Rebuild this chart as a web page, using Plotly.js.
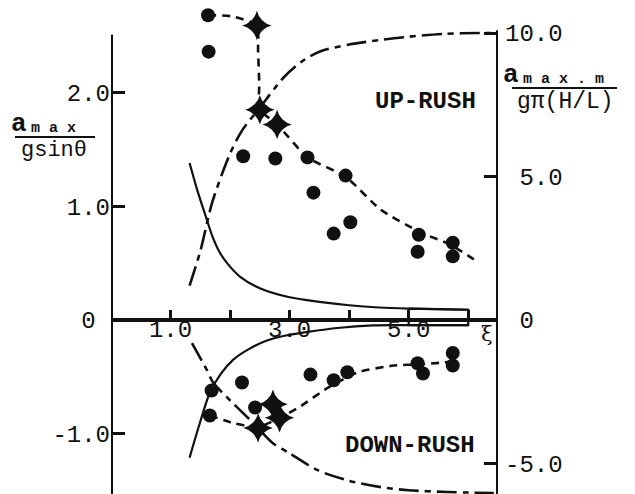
<!DOCTYPE html>
<html><head><meta charset="utf-8">
<script src="https://cdn.plot.ly/plotly-3.0.1.min.js"></script>
<style>html,body{margin:0;padding:0;background:#fff;} #chart{width:635px;height:494px;}</style>
</head><body><div id="chart"></div>
<script>
// ---- measured data (left axis: a_max / g sin(theta); right axis: a_max.m / g pi (H/L)) ----
const upCircX = [1.63,1.64,2.22,2.76,3.30,3.94,3.40,4.02,3.74,5.17,5.15,5.74,5.74];
const upCircY = [2.68,2.36,1.44,1.42,1.43,1.27,1.12,0.86,0.76,0.75,0.60,0.68,0.56];
const upStarX = [2.45,2.50,2.79];
const upStarY = [2.59,1.85,1.72];
const upFitX  = [1.63,2.03,2.45,2.47,2.49,2.50,2.79,3.30,3.94,4.53,5.20,5.71,6.16];
const upFitY  = [2.68,2.67,2.59,2.37,2.08,1.85,1.72,1.43,1.26,0.97,0.77,0.66,0.51];

const dnCircX = [1.69,1.66,2.20,2.42,3.35,3.74,3.97,5.15,5.24,5.74,5.74];
const dnCircY = [-0.62,-0.84,-0.55,-0.77,-0.48,-0.53,-0.46,-0.38,-0.47,-0.29,-0.40];
const dnStarX = [2.47,2.72,2.83];
const dnStarY = [-0.95,-0.74,-0.86];
const dnFitX  = [1.66,2.08,2.47,2.84,3.18,3.63,4.14,4.75,5.20,5.66];
const dnFitY  = [-0.84,-0.91,-0.94,-0.86,-0.76,-0.60,-0.46,-0.40,-0.39,-0.37];

// theoretical curves (left scale)
const upTheoX = [1.32,1.45,1.58,1.70,1.82,1.95,2.17,2.5,3.0,3.5,4.0,4.5,5.0,5.5,6.0];
const upTheoY = [1.38,1.14,0.93,0.74,0.60,0.50,0.38,0.28,0.20,0.16,0.13,0.11,0.10,0.095,0.09];
const dnTheoX = [1.32,1.49,1.66,1.85,2.05,2.30,2.62,3.0,3.3,3.8,4.4,5.0,6.0];
const dnTheoY = [-1.21,-0.91,-0.64,-0.47,-0.35,-0.26,-0.18,-0.13,-0.105,-0.07,-0.047,-0.045,-0.045];
// end box of the theoretical curves
const boxX = [5.0,6.0,6.0,5.0,5.0];
const boxY = [0.10,0.09,-0.045,-0.045,0.10];

// theoretical curves (right scale)
const upMaxX = [1.32,1.5,1.7,2.0,2.2,2.5,2.9,3.2,3.5,4.0,4.5,5.0,5.6,6.2,6.5];
const upMaxY = [1.2,2.4,4.1,5.8,6.6,7.4,8.45,9.0,9.35,9.6,9.75,9.87,9.97,10.0,10.0];
const dnMaxX = [1.36,1.61,1.71,2.0,2.39,2.72,3.0,3.47,4.0,4.53,5.0,5.66,6.0,6.43];
const dnMaxY = [-0.8,-1.74,-2.16,-2.8,-3.59,-4.29,-4.64,-5.23,-5.6,-5.82,-5.93,-5.99,-6.01,-6.03];

// ticks
const xTickVals = [1,2,3,4,5,6];
const xTickText = ['1.0','','3.0','','5.0',''];
const yTickVals = [-1,0,1,2];
const yTickText = ['-1.0','0\u00A0','1.0','2.0'];
const y2TickVals = [-5,0,5,10];
const y2TickText = ['-5.0','\u00A00','\u00A05.0','10.0'];

// ---- layout helpers ----
const W = 635, H = 494, ML = 111, MR = 137;
const PW = W - ML - MR;
const px = v => (v - ML) / PW;
const py = v => 1 - v / H;
const yRange = [-1.530, 2.814];
const y2Range = [-6.06, 11.15];
const xRange = [0, 6.5];
const zeroPos = -yRange[0] / (yRange[1] - yRange[0]);
const ink = '#111';
const mono = 'Liberation Mono, DejaVu Sans Mono, monospace';
const tickFont = {family: mono, size: 24, color: ink};

const dashTheo = '20px,6px,6px,6px';
const dashFit = '8px,6px';

const traces = [
  {x: upMaxX, y: upMaxY, yaxis: 'y2', mode: 'lines', line: {color: ink, width: 2.6, dash: dashTheo, shape: 'spline', smoothing: 0.8}},
  {x: dnMaxX, y: dnMaxY, yaxis: 'y2', mode: 'lines', line: {color: ink, width: 2.6, dash: dashTheo, shape: 'spline', smoothing: 0.8}},
  {x: upTheoX, y: upTheoY, mode: 'lines', line: {color: ink, width: 2.2, shape: 'spline', smoothing: 0.8}},
  {x: dnTheoX, y: dnTheoY, mode: 'lines', line: {color: ink, width: 2.2, shape: 'spline', smoothing: 0.8}},
  {x: boxX, y: boxY, mode: 'lines', line: {color: ink, width: 2.2}},
  {x: upFitX, y: upFitY, mode: 'lines', line: {color: ink, width: 2.6, dash: dashFit, shape: 'spline', smoothing: 0.6}},
  {x: dnFitX, y: dnFitY, mode: 'lines', line: {color: ink, width: 2.6, dash: dashFit, shape: 'spline', smoothing: 0.6}},
  {x: upCircX, y: upCircY, mode: 'markers', marker: {symbol: 'circle', size: 14, color: ink}, cliponaxis: false},
  {x: dnCircX, y: dnCircY, mode: 'markers', marker: {symbol: 'circle', size: 14, color: ink}, cliponaxis: false},
  {x: upStarX, y: upStarY, mode: 'markers', marker: {symbol: 'star-diamond', size: 21, color: ink}, cliponaxis: false},
  {x: dnStarX, y: dnStarY, mode: 'markers', marker: {symbol: 'star-diamond', size: 21, color: ink}, cliponaxis: false},
  // empty trace so the label-only x axis is registered
  {x: [], y: [], xaxis: 'x2', mode: 'markers', hoverinfo: 'skip'}
];

const ann = (text, x, y, font) => ({text, x: px(x), y: py(y), xref: 'paper', yref: 'paper',
  xanchor: 'center', yanchor: 'middle', showarrow: false, font});

const layout = {
  width: W, height: H,
  margin: {l: ML, r: MR, t: 0, b: 0, pad: 0, autoexpand: false},
  paper_bgcolor: '#fff', plot_bgcolor: '#fff',
  showlegend: false,
  xaxis: {
    range: xRange, anchor: 'free', position: zeroPos,
    showline: true, linewidth: 4, linecolor: ink,
    showgrid: false, zeroline: false,
    ticks: 'inside', ticklen: 8, tickwidth: 3, tickcolor: ink,
    tickmode: 'array', tickvals: xTickVals, ticktext: xTickText,
    showticklabels: false
  },
  xaxis2: {
    range: xRange, overlaying: 'x', anchor: 'free', position: zeroPos + 8 / H,
    showline: false, showgrid: false, zeroline: false, ticks: '',
    tickmode: 'array', tickvals: xTickVals, ticktext: xTickText,
    tickfont: tickFont
  },
  yaxis: {
    range: yRange, showline: false, showgrid: false, zeroline: false,
    ticks: 'inside', ticklen: 14, tickwidth: 3, tickcolor: ink,
    tickmode: 'array', tickvals: yTickVals, ticktext: yTickText,
    tickfont: tickFont
  },
  yaxis2: {
    range: y2Range, overlaying: 'y', side: 'right',
    showline: false, showgrid: false, zeroline: false,
    ticks: 'inside', ticklen: 14, tickwidth: 3, tickcolor: ink,
    tickmode: 'array', tickvals: y2TickVals, ticktext: y2TickText,
    tickfont: tickFont, ticklabelstandoff: 6
  },
  shapes: [
    {type: 'line', xref: 'x', yref: 'y', x0: 0, x1: 0, y0: yRange[0] - 0.1, y1: 2.51, line: {color: ink, width: 4}},
    {type: 'line', xref: 'x', yref: 'y2', x0: 6.5, x1: 6.5, y0: y2Range[0] - 0.5, y1: 10.1, line: {color: ink, width: 4}},
    {type: 'line', xref: 'paper', yref: 'paper', x0: px(15), x1: px(95), y0: py(137), y1: py(137), line: {color: ink, width: 2}},
    {type: 'line', xref: 'paper', yref: 'paper', x0: px(512), x1: px(617), y0: py(88), y1: py(88), line: {color: ink, width: 2}}
  ],
  annotations: [
    {text: 'UP-RUSH', x: 5.29, y: 1.92, xref: 'x', yref: 'y', showarrow: false, font: {family: mono, size: 24, color: ink, weight: 'bold'}},
    {text: 'DOWN-RUSH', x: 5.02, y: -1.10, xref: 'x', yref: 'y', showarrow: false, font: {family: mono, size: 24, color: ink, weight: 'bold'}},
    {text: 'ξ', x: 6.32, y: -0.12, xref: 'x', yref: 'y', showarrow: false, font: {family: 'DejaVu Serif, serif', size: 21, color: ink}},
    ann('<b>a</b>', 19, 124, {family: mono, size: 26, color: ink}),
    ann('<b>m a x</b>', 53, 128, {family: mono, size: 15, color: ink}),
    ann('gsinθ', 54, 151, {family: mono, size: 22, color: ink}),
    ann('<b>a</b>', 511, 75, {family: mono, size: 26, color: ink}),
    ann('<b>m a x . m</b>', 563, 79, {family: mono, size: 15, color: ink}),
    ann('gπ(H/L)', 565, 102, {family: mono, size: 23, color: ink})
  ]
};

Plotly.newPlot('chart', traces, layout, {staticPlot: true, displayModeBar: false});
</script>
</body></html>
